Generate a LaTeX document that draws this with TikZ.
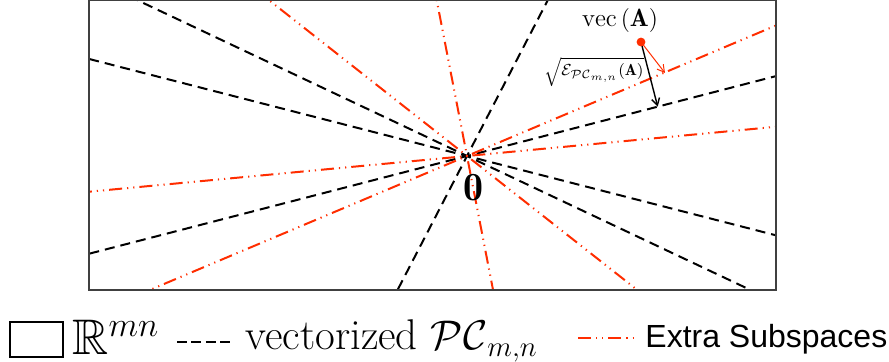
\documentclass[tikz,border=0pt]{standalone}
\usepackage{amssymb,amsmath}
\usepackage{fontspec}
\newfontfamily\legendsans{Liberation Sans}
\usepackage{tikz}
\usetikzlibrary{arrows.meta, calc, positioning}
\definecolor{extra}{RGB}{255,45,0}
\tikzset{
  pcline/.style={black, line width=1pt, dash pattern=on 5pt off 3pt},
  extraline/.style={extra, line width=1pt, dash pattern=on 6.5pt off 2.5pt on 0.6pt off 2.5pt on 0.6pt off 2.5pt},
  barb/.style={-{Straight Barb[length=3.5pt,width=4pt]}},
}

\begin{document}
\begin{tikzpicture}[x=0.5pt,y=0.5pt]
    \useasboundingbox (0,0) rectangle (889,-362);
    \coordinate (O) at (467,-156);
    % subspaces through the origin
    \begin{scope}
        \clip (89,0) rectangle (776,-290);
        \foreach \ang in {-25.3,-14.4,14.5,62.6}
            \draw[pcline] ($(O)+(\ang:900)$) -- ($(O)+(\ang+180:900)$);
        \foreach \ang in {-38.2,-79,5.4,22.9}
            \draw[extraline] ($(O)+(\ang:900)$) -- ($(O)+(\ang+180:900)$);
    \end{scope}
    \draw[black!75, line width=0.7pt] (89,0) rectangle (776,-290);
    \node (zero) at (473,-188) {\fontsize{20}{24}\selectfont$\mathbf{0}$};
    % vec(A) and its projections
    \coordinate (vecA) at (641,-42);
    \coordinate (b3) at ($(O)+(14.5:300)$);
    \coordinate (footB) at ($(O)!(vecA)!(b3)$);
    \coordinate (footR) at (665,-73);
    \draw[barb, line width=0.7pt] (vecA) -- (footB);
    \draw[barb, extra, line width=0.5pt] (vecA) -- (footR);
    \fill[extra] (vecA) circle (2.2pt);
    \node (veclbl) at (620,-21) {\fontsize{12.5}{15}\selectfont$\mathrm{vec}\left(\mathbf{A}\right)$};
    \node (errlbl) at (594,-72) {\fontsize{8}{10}\selectfont$\sqrt{\mathcal{E}_{\mathcal{PC}_{m,n}}(\mathbf{A})}$};
    % legend
    \node[draw, line width=0.6pt, minimum width=26.5pt, minimum height=17.5pt, inner sep=0] (boxkey) at (36.5,-339.5) {};
    \node[anchor=base west, inner sep=0] (rmn) at (72,-355) {\fontsize{25}{30}\selectfont$\mathbb{R}^{mn}$};
    \draw[pcline, dash pattern=on 5pt off 2.2pt] (177,-342) -- (230,-342);
    \node[anchor=base west, inner sep=0] (pclbl) at (245,-350) {\fontsize{21.5}{26}\selectfont vectorized $\mathcal{PC}_{m,n}$};
    \draw[extraline] (578,-338) -- (638,-338);
    \node[anchor=base west, inner sep=0] (extralbl) at (645,-348) {\fontsize{16}{19}\selectfont\legendsans Extra Subspaces};
\end{tikzpicture}
\end{document}
